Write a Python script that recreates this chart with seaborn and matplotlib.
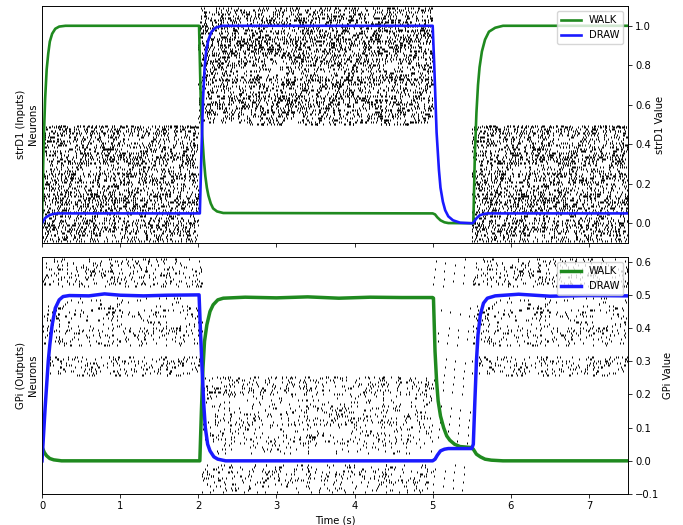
import numpy as np
import pandas as pd
import matplotlib
matplotlib.use("Agg")
import matplotlib.pyplot as plt
import seaborn as sns

## style: matplotlib defaults shrunk to fit the small figure ##
sc = 0.72
plt.rcParams.update({
    'font.size': 10 * sc,
    'axes.linewidth': 0.8 * sc,
    'axes.labelpad': 4.0 * sc,
    'xtick.major.size': 3.5 * sc, 'ytick.major.size': 3.5 * sc,
    'xtick.major.width': 0.8 * sc, 'ytick.major.width': 0.8 * sc,
    'xtick.major.pad': 3.5 * sc, 'ytick.major.pad': 3.5 * sc,
})
plt.rcParams['font.family'] = ['DejaVu Sans']

## line data (time in s, value) ##

# strD1 panel
str_walk_t = [0, 0.02, 0.04, 0.06, 0.08, 0.10, 0.13, 0.17, 0.22, 0.30, 2.01, 2.03, 2.05,
              2.07, 2.09, 2.11, 2.13, 2.16, 2.19, 2.24, 2.32, 5.00, 5.03, 5.06, 5.10,
              5.15, 5.20, 5.52, 5.54, 5.56, 5.58, 5.60, 5.63, 5.67, 5.72, 5.80, 5.90, 7.50]
str_walk_v = [0.0, 0.39, 0.63, 0.78, 0.86, 0.92, 0.96, 0.985, 0.996, 1.0, 1.0, 0.65, 0.45,
              0.33, 0.24, 0.18, 0.14, 0.10, 0.075, 0.06, 0.052, 0.05, 0.045, 0.03, 0.015,
              0.005, 0.001, 0.0, 0.35, 0.56, 0.70, 0.79, 0.87, 0.93, 0.97, 0.99, 1.0, 1.0]
str_draw_t = [0, 0.02, 0.05, 0.10, 0.15, 0.20, 2.02, 2.04, 2.06, 2.08, 2.10, 2.13, 2.17,
              2.22, 2.30, 5.00, 5.02, 5.05, 5.08, 5.10, 5.13, 5.16, 5.20, 5.26, 5.35,
              5.51, 5.53, 5.56, 5.60, 5.65, 5.70, 7.50]
str_draw_v = [0.0, 0.015, 0.03, 0.042, 0.048, 0.05, 0.05, 0.35, 0.62, 0.78, 0.87, 0.93,
              0.97, 0.99, 1.0, 1.0, 0.80, 0.46, 0.27, 0.18, 0.11, 0.066, 0.035, 0.015,
              0.003, 0.0, 0.008, 0.025, 0.04, 0.047, 0.05, 0.05]

# GPi panel
gpi_walk_t = [0, 0.03, 0.06, 0.10, 0.15, 0.25, 2.02, 2.04, 2.06, 2.08, 2.11, 2.15, 2.19,
              2.25, 2.32, 2.6, 3.0, 3.4, 3.8, 4.2, 4.6, 5.00, 5.01, 5.03, 5.05, 5.07,
              5.10, 5.14, 5.18, 5.22, 5.28, 5.35, 5.50, 5.52, 5.56, 5.61, 5.67, 5.75,
              5.90, 7.50]
gpi_walk_v = [0.042, 0.025, 0.015, 0.007, 0.003, 0.0, 0.0, 0.15, 0.28, 0.36, 0.41, 0.45,
              0.47, 0.485, 0.49, 0.493, 0.491, 0.494, 0.490, 0.493, 0.492, 0.492, 0.49,
              0.33, 0.24, 0.18, 0.135, 0.10, 0.075, 0.062, 0.05, 0.043, 0.04, 0.035,
              0.02, 0.012, 0.005, 0.002, 0.0, 0.0]
gpi_draw_t = [0, 0.02, 0.04, 0.06, 0.08, 0.10, 0.13, 0.17, 0.22, 0.27, 0.35, 0.6, 0.8,
              1.0, 1.3, 1.6, 2.01, 2.03, 2.05, 2.07, 2.09, 2.12, 2.15, 2.20, 2.25, 2.35,
              5.00, 5.03, 5.06, 5.10, 5.15, 5.20, 5.50, 5.52, 5.54, 5.56, 5.58, 5.61,
              5.65, 5.70, 5.80, 6.1, 6.5, 7.0, 7.50]
gpi_draw_v = [0.0, 0.08, 0.16, 0.23, 0.30, 0.35, 0.41, 0.46, 0.485, 0.495, 0.498, 0.497,
              0.503, 0.499, 0.497, 0.499, 0.5, 0.38, 0.27, 0.17, 0.10, 0.05, 0.03, 0.012,
              0.005, 0.0, 0.0, 0.005, 0.017, 0.03, 0.035, 0.037, 0.037, 0.05, 0.18, 0.30,
              0.38, 0.44, 0.475, 0.49, 0.497, 0.502, 0.496, 0.498, 0.497]

## raster data ##
# firing rate (Hz) per band of 5 neurons, 12 bands per population (bottom -> top)
str_walk_rates = [22, 30, 18, 26, 32, 20, 28, 16, 30, 24, 20, 28]
str_draw_rates = [20, 26, 30, 22, 28, 18, 26, 30, 34, 24, 30, 22]
gpi_low_rates = [6, 10, 8, 0, 4, 9, 6, 10, 8, 5, 12, 10]
gpi_high_rates = [10, 12, 0, 8, 10, 6, 10, 4, 0, 10, 12, 9]
# segments: (start, end, rate scale)
str_walk_segs = [(0.0, 2.0, 1.0), (5.5, 7.5, 1.0)]
str_draw_segs = [(2.0, 5.0, 1.0)]
gpi_low_segs = [(2.05, 5.0, 1.0), (5.0, 5.5, 0.2)]
gpi_high_segs = [(0.0, 2.05, 1.0), (5.0, 5.5, 0.15), (5.5, 7.5, 1.0)]

n_pop = 60
golden = 0.6180339887


def spikes(rates, segs, offset):
    # spread spike times over each segment with a quadratic Weyl sequence per neuron
    times, ids = [], []
    per_neuron = np.repeat(rates, 5)
    for i, r in enumerate(per_neuron):
        nid = offset + i
        phase = (nid * 0.7548776662) % 1
        beta = (nid * 1.7320508076) % 1
        for a, b, s in segs:
            n = int(round(r * s * (b - a)))
            if n == 0:
                continue
            k = np.arange(n)
            t = a + (b - a) * ((phase + k * golden + k * k * beta) % 1)
            times.extend(t)
            ids.extend([nid] * n)
    return pd.DataFrame({'t': times, 'n': ids})


panels = [
    dict(label='strD1 (Inputs)\nNeurons', rlabel='strD1 Value', ylim=(-0.1, 1.1),
         yticks=np.arange(0, 1.01, 0.2), lw=1.9,
         raster=[(str_walk_rates, str_walk_segs, 0), (str_draw_rates, str_draw_segs, n_pop)],
         lines=[(str_walk_t, str_walk_v), (str_draw_t, str_draw_v)]),
    dict(label='GPi (Outputs)\nNeurons', rlabel='GPi Value', ylim=(-0.1, 0.614),
         yticks=np.arange(-0.1, 0.61, 0.1), lw=2.5,
         raster=[(gpi_low_rates, gpi_low_segs, 0), (gpi_high_rates, gpi_high_segs, n_pop)],
         lines=[(gpi_walk_t, gpi_walk_v), (gpi_draw_t, gpi_draw_v)]),
]

colors = ['#1f8a1f', '#1a1aff']
names = ['WALK', 'DRAW']

fig = plt.figure(figsize=(6.83, 5.25), dpi=100)
positions = [[0.0615, 0.5371, 0.858, 0.4514], [0.0615, 0.0590, 0.858, 0.4514]]

for k, p in enumerate(panels):
    ax = fig.add_axes(positions[k])
    df = pd.concat([spikes(*r) for r in p['raster']])
    ax.scatter(df['t'], df['n'], marker='|', s=1.1, linewidths=0.7, c='k')
    ax.set_ylim(-1, 2 * n_pop)
    ax.set_xlim(0, 7.5)
    ax.set_yticks([])
    ax.set_ylabel(p['label'])

    ax2 = ax.twinx()
    for (t, v), c, nm in zip(p['lines'], colors, names):
        sns.lineplot(x=t, y=v, ax=ax2, color=c, lw=p['lw'], label=nm,
                     estimator=None, sort=False)
    ax2.set_ylim(*p['ylim'])
    ax2.set_yticks(p['yticks'])
    ax2.set_ylabel(p['rlabel'])
    ax2.set_xlim(0, 7.5)
    ax2.legend(loc='upper right')
    ax.set_xticks(range(8))
    if k == 0:
        ax.set_xticklabels([])
    else:
        ax.set_xlabel('Time (s)')

fig.savefig('out.png', dpi=100)
